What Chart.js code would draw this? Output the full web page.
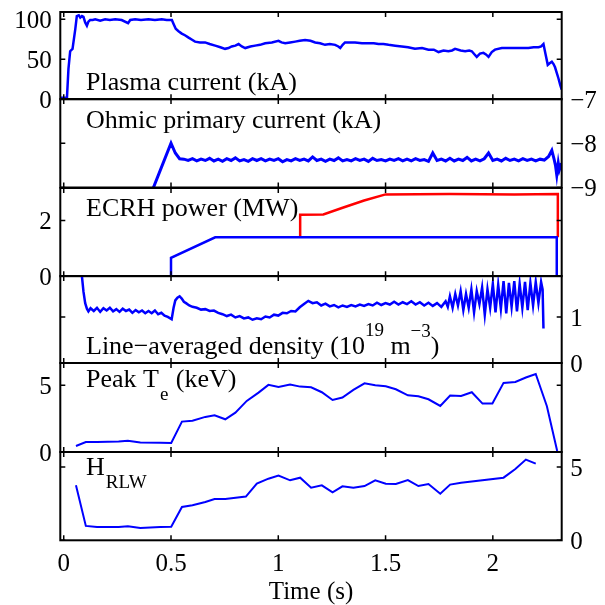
<!DOCTYPE html>
<html>
<head>
<meta charset="utf-8">
<script src="https://cdn.jsdelivr.net/npm/chart.js@4.4.1/dist/chart.umd.min.js"></script>
<style>
  html, body { margin: 0; padding: 0; background: #fff; }
  #wrap { position: relative; width: 605px; height: 605px; overflow: hidden; background: #fff; }
  #wrap canvas { position: absolute; left: 0; }
</style>
</head>
<body>
<div id="wrap"></div>
<script>
'use strict';

// x axis (time, s)
const timeTicks = [0, 0.5, 1, 1.5, 2];

// plasma current (kA) : [t, value]
const plasmaCurrent = [
  [-0.016,2],[0.015,2],[0.022,38],[0.03,60],[0.041,63],[0.054,88],[0.061,104],[0.07,105],[0.077,102],[0.085,104],
  [0.092,103],[0.1,96],[0.108,92],[0.115,97],[0.123,99],[0.135,99],[0.147,100],[0.17,98],[0.193,100],[0.215,99],
  [0.24,100],[0.27,99],[0.3,95],[0.31,99],[0.333,100],[0.36,99],[0.395,100],[0.425,99],[0.457,100],[0.48,99],
  [0.504,99],[0.512,94],[0.522,88],[0.535,85],[0.55,82],[0.565,80],[0.582,77],[0.6,74],[0.612,72],[0.635,71],
  [0.659,71],[0.68,69],[0.706,67],[0.73,65],[0.752,63],[0.768,64],[0.783,66],[0.8,67],[0.815,69],[0.83,66],
  [0.846,64],[0.87,66],[0.892,67],[0.915,68],[0.939,70],[0.97,71],[1.001,73],[1.015,71],[1.032,70],[1.055,71],
  [1.079,72],[1.1,73],[1.125,74],[1.15,73],[1.172,71],[1.195,70],[1.218,68],[1.24,69],[1.265,68],[1.28,66],
  [1.289,64],[1.3,68],[1.311,71],[1.335,71],[1.358,71],[1.39,70],[1.42,70],[1.445,70],[1.467,69],[1.49,69],
  [1.514,68],[1.545,67],[1.576,66],[1.605,65],[1.637,63],[1.67,64],[1.7,62],[1.725,62],[1.747,59],[1.77,61],
  [1.793,60],[1.81,61],[1.824,63],[1.85,61],[1.871,60],[1.89,61],[1.902,60],[1.915,56],[1.925,53],[1.94,57],
  [1.956,58],[1.968,56],[1.98,53],[1.995,59],[2.01,62],[2.042,64],[2.07,64],[2.104,64],[2.135,64],[2.166,64],
  [2.19,65],[2.213,65],[2.225,66],[2.236,69],[2.246,56],[2.256,43],[2.265,45],[2.275,47],[2.283,44],[2.29,40],
  [2.298,33],[2.306,26],[2.314,18],[2.321,12]
];

// ohmic primary current (kA)
const ohmicCurrent = [
  [0.41,-9.1],[0.5,-8.0],[0.52,-8.22],[0.54,-8.35],
  [0.56,-8.36],[0.58,-8.39],[0.60,-8.35],[0.62,-8.40],[0.64,-8.36],[0.66,-8.39],[0.68,-8.34],[0.70,-8.40],
  [0.72,-8.36],[0.74,-8.41],[0.76,-8.35],[0.78,-8.39],[0.80,-8.33],[0.82,-8.40],[0.84,-8.37],[0.86,-8.41],
  [0.88,-8.35],[0.90,-8.39],[0.92,-8.35],[0.94,-8.40],[0.96,-8.36],[0.98,-8.39],[1.00,-8.35],[1.02,-8.42],
  [1.04,-8.37],[1.06,-8.40],[1.08,-8.35],[1.10,-8.39],[1.12,-8.36],[1.14,-8.40],[1.16,-8.31],[1.18,-8.39],
  [1.20,-8.36],[1.22,-8.41],[1.24,-8.36],[1.26,-8.39],[1.28,-8.33],[1.30,-8.40],[1.32,-8.37],[1.34,-8.40],
  [1.36,-8.35],[1.38,-8.39],[1.40,-8.36],[1.42,-8.41],[1.44,-8.34],[1.46,-8.39],[1.48,-8.37],[1.50,-8.40],
  [1.52,-8.36],[1.54,-8.39],[1.56,-8.35],[1.58,-8.40],[1.60,-8.36],[1.62,-8.40],[1.64,-8.35],[1.66,-8.39],
  [1.68,-8.37],[1.70,-8.41],[1.72,-8.22],[1.74,-8.39],[1.76,-8.36],[1.78,-8.40],[1.80,-8.34],[1.82,-8.40],
  [1.84,-8.36],[1.86,-8.39],[1.88,-8.32],[1.90,-8.40],[1.92,-8.36],[1.94,-8.40],[1.96,-8.35],[1.98,-8.22],
  [2.00,-8.39],[2.02,-8.36],[2.04,-8.40],[2.06,-8.34],[2.08,-8.39],[2.10,-8.36],[2.12,-8.40],[2.14,-8.35],
  [2.16,-8.39],[2.18,-8.36],[2.20,-8.40],[2.22,-8.36],[2.24,-8.38],[2.26,-8.30],[2.275,-8.16],[2.285,-8.35],
  [2.292,-8.5],[2.298,-8.72],[2.305,-8.45],[2.31,-8.6],[2.32,-8.45]
];

// ECRH power (MW)
const ecrhBlue = [[0.5,0],[0.5,0.66],[0.706,1.40],[2.298,1.40],[2.298,0]];
const ecrhRed = [[1.102,1.40],[1.102,2.21],[1.21,2.22],[1.3,2.46],[1.4,2.72],[1.5,2.94],[1.8,2.95],[2.1,2.94],[2.303,2.95],[2.303,1.40]];

// line-averaged density (1e19 m^-3)
const density = [
  [0.054,1.95],[0.084,1.92],[0.092,1.55],[0.1,1.3],[0.108,1.18],[0.115,1.12],[0.125,1.19],[0.14,1.13],[0.155,1.2],[0.17,1.11],
  [0.185,1.19],[0.2,1.14],[0.215,1.2],[0.23,1.12],[0.245,1.17],[0.26,1.11],[0.275,1.18],[0.29,1.13],[0.305,1.16],[0.32,1.09],
  [0.335,1.15],[0.35,1.1],[0.365,1.14],[0.38,1.08],[0.395,1.13],[0.41,1.08],[0.425,1.14],[0.44,1.06],[0.455,1.09],[0.47,1.03],
  [0.485,1.0],[0.503,0.95],[0.512,1.2],[0.52,1.36],[0.53,1.42],[0.54,1.45],[0.55,1.40],[0.56,1.33],[0.57,1.3],[0.585,1.25],
  [0.6,1.22],[0.62,1.2],[0.64,1.16],[0.66,1.17],[0.68,1.13],[0.7,1.14],[0.72,1.09],[0.74,1.06],[0.76,1.02],[0.78,1.05],
  [0.8,0.99],[0.82,1.02],[0.84,0.97],[0.86,0.99],[0.88,0.94],[0.9,0.97],[0.92,0.95],[0.94,1.01],[0.96,0.99],[0.98,1.05],
  [1.0,1.03],[1.02,1.09],[1.04,1.08],[1.06,1.13],[1.08,1.12],[1.1,1.21],[1.12,1.28],[1.14,1.35],[1.16,1.3],[1.18,1.32],
  [1.2,1.25],[1.22,1.29],[1.24,1.23],[1.26,1.26],[1.28,1.21],[1.3,1.25],[1.32,1.22],[1.34,1.26],[1.36,1.23],[1.38,1.27],
  [1.4,1.24],[1.42,1.28],[1.44,1.25],[1.46,1.31],[1.48,1.26],[1.5,1.3],[1.52,1.27],[1.54,1.33],[1.56,1.27],[1.58,1.32],
  [1.6,1.28],[1.62,1.34],[1.64,1.27],[1.66,1.32],[1.68,1.25],[1.7,1.31],[1.72,1.24],[1.74,1.3],[1.76,1.22],[1.78,1.34],
  [1.79,1.22],[1.8,1.45],[1.8125,1.2],[1.825,1.5],[1.8375,1.25],[1.85,1.56],[1.8625,1.15],[1.875,1.5],[1.8875,1.2],[1.9,1.6],
  [1.9125,1.1],[1.925,1.56],[1.9375,1.28],[1.95,1.64],[1.9625,1.05],[1.975,1.6],[1.9875,1.2],[2.0,1.72],[2.0125,1.1],[2.025,1.7],
  [2.0375,1.18],[2.05,1.78],[2.0625,1.08],[2.075,1.74],[2.0875,1.22],[2.1,1.78],[2.1125,1.12],[2.125,1.72],[2.1375,1.2],[2.15,1.76],
  [2.1625,1.15],[2.175,1.74],[2.1875,1.25],[2.2,1.76],[2.2125,1.3],[2.225,1.76],[2.232,1.6],[2.236,0.75]
];

// peak electron temperature (keV)
const peakTe = [
  [0.057,0.45],[0.103,0.75],[0.155,0.75],[0.256,0.78],[0.299,0.85],[0.357,0.72],[0.45,0.7],[0.501,0.68],[0.551,2.28],[0.60,2.35],
  [0.66,2.63],[0.703,2.75],[0.753,2.45],[0.80,2.95],[0.853,3.83],[0.908,4.45],[0.954,5.03],[1.001,4.88],[1.055,5.05],[1.102,4.9],
  [1.153,4.85],[1.203,4.48],[1.253,3.9],[1.299,4.08],[1.35,4.65],[1.402,5.15],[1.452,5.0],[1.501,4.93],[1.548,4.7],[1.604,4.25],
  [1.653,4.18],[1.70,3.95],[1.755,3.45],[1.801,4.23],[1.852,4.2],[1.902,4.48],[1.952,3.63],[1.998,3.63],[2.05,5.18],[2.105,5.25],
  [2.154,5.58],[2.20,5.85],[2.252,3.43],[2.30,0.08]
];

// H factor (RLW)
const hRLW = [
  [0.057,3.75],[0.103,0.98],[0.155,0.91],[0.256,0.91],[0.299,0.95],[0.357,0.84],[0.45,0.91],[0.501,0.93],[0.551,2.27],[0.60,2.39],
  [0.66,2.61],[0.703,2.82],[0.753,2.82],[0.849,2.98],[0.90,3.86],[0.954,4.2],[1.001,4.41],[1.055,4.09],[1.102,4.27],[1.153,3.59],
  [1.203,3.75],[1.253,3.27],[1.299,3.68],[1.35,3.59],[1.402,3.7],[1.452,4.09],[1.501,3.86],[1.548,3.84],[1.604,4.11],[1.653,3.7],
  [1.70,3.84],[1.755,3.18],[1.801,3.8],[1.852,3.93],[2.05,4.27],[2.105,4.86],[2.154,5.5],[2.20,5.23]
];

// y tick labels per panel
const ticksPlasma = [0, 50, 100];
const ticksOhmic = [-9, -8, -7];
const ticksEcrh = [0, 2];
const ticksDensity = [0, 1];
const ticksTe = [0, 5];
const ticksH = [0, 5];

const BLUE = '#0000ff', RED = '#ff0000';
const SERIF = '"Liberation Serif", "Times New Roman", serif';
const edges = [11.7, 99, 187.5, 275.7, 362.7, 451.7, 540];
const PAD = 28, LEFT = 60.3, RIGHTW = 605 - 561.7, TICK = 5, TEXT_X = 25.7;

const panels = [
  { side: 'left', min: 0, max: 109, ticks: ticksPlasma, base: 78,
    label: [{ t: 'Plasma current (kA)' }], sets: [{ data: plasmaCurrent, color: BLUE, w: 2.5 }] },
  { side: 'right', min: -9, max: -7, ticks: ticksOhmic, base: 28.7,
    label: [{ t: 'Ohmic primary current (kA)' }], sets: [{ data: ohmicCurrent, color: BLUE, w: 3 }] },
  { side: 'left', min: 0, max: 3.17, ticks: ticksEcrh, base: 28.2,
    label: [{ t: 'ECRH power (MW)' }], sets: [{ data: ecrhBlue, color: BLUE, w: 2.5 }, { data: ecrhRed, color: RED, w: 2.5 }] },
  { side: 'right', min: 0, max: 1.89, ticks: ticksDensity, base: 77.6,
    label: [{ t: 'Line\u2212averaged density (10' }, { t: '19', dy: -18 }, { t: ' m' }, { t: '\u22123', dy: -17 }, { t: ')' }],
    sets: [{ data: density, color: BLUE, w: 2.5 }] },
  { side: 'left', min: 0, max: 6.67, ticks: ticksTe, base: 24,
    label: [{ t: 'Peak T' }, { t: 'e', dy: 13, gap: 1 }, { t: ' (keV)', gap: 1 }], sets: [{ data: peakTe, color: BLUE, w: 2 }] },
  { side: 'right', min: 0, max: 6.02, ticks: ticksH, base: 23.3,
    label: [{ t: 'H' }, { t: 'RLW', dy: 13, gap: 1 }], sets: [{ data: hRLW, color: BLUE, w: 2 }] }
];

// box + inward ticks on every side
const framePlugin = {
  id: 'frame',
  afterDraw(chart) {
    const { ctx, chartArea: a, scales: { x, y } } = chart;
    ctx.save();
    ctx.strokeStyle = '#000';
    ctx.lineWidth = 1.5;
    ctx.beginPath();
    timeTicks.forEach(v => {
      const px = x.getPixelForValue(v);
      ctx.moveTo(px, a.top); ctx.lineTo(px, a.top + TICK);
      ctx.moveTo(px, a.bottom); ctx.lineTo(px, a.bottom - TICK);
    });
    y.ticks.forEach(t => {
      const py = y.getPixelForValue(t.value);
      ctx.moveTo(a.left, py); ctx.lineTo(a.left + TICK, py);
      ctx.moveTo(a.right, py); ctx.lineTo(a.right - TICK, py);
    });
    ctx.stroke();
    ctx.lineWidth = 2;
    ctx.strokeRect(a.left, a.top, a.right - a.left, a.bottom - a.top);
    ctx.restore();
  }
};

function labelPlugin(p) {
  return {
    id: 'panelLabel',
    afterDraw(chart) {
      const { ctx, chartArea: a } = chart;
      let x = a.left + TEXT_X;
      const y0 = a.top + p.base;
      ctx.save();
      ctx.fillStyle = '#000';
      ctx.textAlign = 'left';
      ctx.textBaseline = 'alphabetic';
      p.label.forEach(s => {
        const small = !!s.dy;
        ctx.font = (small ? 19 : 26) + 'px ' + SERIF;
        x += s.gap || 0;
        ctx.fillText(s.t, x, y0 + (s.dy || 0));
        x += ctx.measureText(s.t).width;
      });
      ctx.restore();
    }
  };
}

const wrap = document.getElementById('wrap');

panels.forEach((p, i) => {
  const last = i === panels.length - 1;
  const cTop = edges[i] - PAD;
  const cH = Math.round(last ? 605 - cTop : edges[i + 1] - edges[i] + 2 * PAD);
  const cv = document.createElement('canvas');
  cv.width = 605;
  cv.height = cH;
  cv.style.top = cTop + 'px';
  wrap.appendChild(cv);

  new Chart(cv, {
    type: 'line',
    data: {
      datasets: p.sets.map(s => ({
        data: s.data.map(d => ({ x: d[0], y: d[1] })),
        borderColor: s.color,
        borderWidth: s.w,
        pointRadius: 0,
        tension: 0,
        fill: false
      }))
    },
    options: {
      responsive: false,
      animation: false,
      events: [],
      layout: {
        padding: {
          top: PAD,
          bottom: last ? cH - (edges[i + 1] - cTop) - 65 : cH - (edges[i + 1] - cTop),
          left: p.side === 'left' ? 0 : LEFT,
          right: p.side === 'right' ? 0 : RIGHTW
        }
      },
      scales: {
        x: {
          type: 'linear',
          min: -0.016,
          max: 2.321,
          display: last,
          afterBuildTicks: s => { s.ticks = timeTicks.map(v => ({ value: v })); },
          afterFit: s => { if (last) s.height = 65; },
          grid: { display: false, drawTicks: false },
          border: { display: false },
          ticks: { color: '#000', font: { family: SERIF, size: 25 }, padding: 9, maxRotation: 0, autoSkip: false,
                   callback: v => String(v) },
          title: { display: true, text: 'Time (s)', color: '#000',
                   font: { family: SERIF, size: 25, lineHeight: 1 }, padding: 0 }
        },
        y: {
          type: 'linear',
          position: p.side,
          min: p.min,
          max: p.max,
          afterBuildTicks: s => { s.ticks = p.ticks.map(v => ({ value: v })); },
          afterFit: s => { s.width = p.side === 'left' ? LEFT : RIGHTW; },
          grid: { display: false, drawTicks: false },
          border: { display: false },
          ticks: { color: '#000', font: { family: SERIF, size: 25 }, padding: 8.5, labelOffset: 2,
                   callback: v => String(v).replace('-', '\u2212') }
        }
      },
      plugins: {
        legend: { display: false },
        tooltip: { enabled: false }
      }
    },
    plugins: [framePlugin, labelPlugin(p)]
  });
});
</script>
</body>
</html>
